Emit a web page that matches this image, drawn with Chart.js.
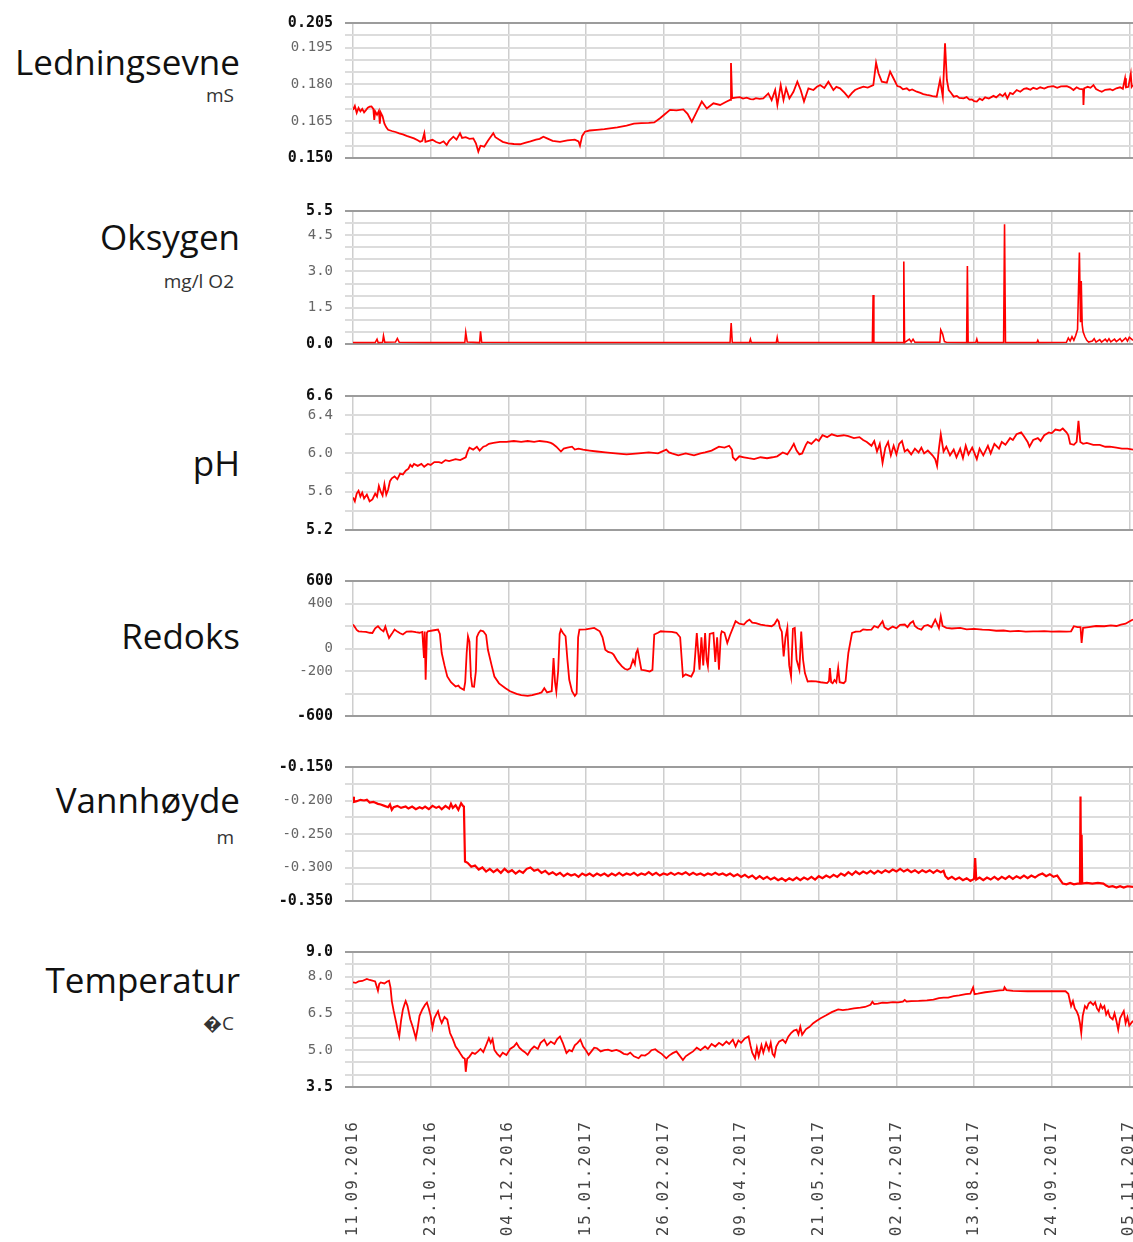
<!DOCTYPE html>
<html>
<head>
<meta charset="utf-8">
<title>Målinger</title>
<script src="https://cdn.jsdelivr.net/npm/chart.js@4"></script>
<style>
  html, body { margin: 0; padding: 0; background: #fff; overflow: hidden; }
  body { width: 1133px; height: 1242px; position: relative; }
  .title { position: absolute; right: 893px; font-family: 'Open Sans', sans-serif; font-size: 35px; color: #111; white-space: nowrap; line-height: 35px; }
  .unit { position: absolute; right: 899px; font-family: 'Open Sans', sans-serif; font-size: 19px; color: #333; white-space: nowrap; line-height: 19px; }
  .panel { position: absolute; left: 260px; }
</style>
</head>
<body>
<div class="title" style="top:44px">Ledningsevne</div>
<div class="unit" style="top:86px">mS</div>
<div class="title" style="top:219px">Oksygen</div>
<div class="unit" style="top:272px">mg/l O2</div>
<div class="title" style="top:445px">pH</div>
<div class="title" style="top:618px">Redoks</div>
<div class="title" style="top:782px">Vannhøyde</div>
<div class="unit" style="top:828px">m</div>
<div class="title" style="top:962px">Temperatur</div>
<div class="unit" style="top:1014px">�C</div>

<script>
// datoer langs x-aksen, hver 42. dag fra 11.09.2016
const dateLabels = ['11.09.2016', '23.10.2016', '04.12.2016', '15.01.2017', '26.02.2017', '09.04.2017',
  '21.05.2017', '02.07.2017', '13.08.2017', '24.09.2017', '05.11.2017'];
const dayStep = 42;
const lastDay = 422;

// etiketter på y-aksene
const condTicks = ['0.205', '0.195', '0.180', '0.165', '0.150'];
const oxyTicks = ['5.5', '4.5', '3.0', '1.5', '0.0'];
const phTicks = ['6.6', '6.4', '6.0', '5.6', '5.2'];
const redoxTicks = ['600', '400', '0', '-200', '-600'];
const levelTicks = ['-0.150', '-0.200', '-0.250', '-0.300', '-0.350'];
const tempTicks = ['9.0', '8.0', '6.5', '5.0', '3.5'];

// [dag, verdi]
const condData = [[0,.1696],[1,.1712],[2,.1684],[3,.1704],[4,.1690],[5,.1700],[6,.1686],[7,.1695],[8,.1705],[9,.1709],
  [10,.1710],[11,.1700],[11.5,.1655],[12,.1690],[13,.1676],[14,.1692],[14.5,.1640],[15,.1685],[16,.1670],[17,.1640],
  [18,.1625],[19,.1615],[21,.1610],[23,.1606],[25,.1600],[27,.1596],[29,.1590],[31,.1585],[33,.1580],[35,.1572],
  [36.3,.1566],[37.5,.1570],[38.6,.1601],[39.2,.1566],[41,.1570],[43,.1574],[45,.1565],[47,.1560],[49,.1568],[50.7,.1553],
  [52,.1570],[54.3,.1587],[56,.1575],[57.9,.1601],[59,.1582],[61,.1585],[63,.1578],[65.1,.1580],[66.5,.1560],[67.8,.1526],
  [69,.1550],[71,.1546],[73,.1570],[75.9,.1601],[77,.1585],[79,.1575],[81,.1566],[84,.1560],[87,.1557],[90.4,.1556],
  [93,.1562],[96,.1568],[99,.1575],[101,.1578],[103,.1587],[105,.1580],[108,.1570],[112,.1566],[116,.1572],[120,.1575],
  [122,.1568],[122.8,.1550],[124,.1590],[125.5,.1607],[128,.1612],[132,.1615],[136,.1618],[139,.1621],[143,.1625],[148,.1632],
  [152,.1640],[156,.1642],[160,.1643],[163,.1645],[166.1,.1662],[169,.1680],[171.5,.1696],[175,.1694],[178.7,.1698],[181,.1680],
  [183.3,.1648],[186,.1689],[188.7,.1730],[191.4,.1702],[195,.1723],[198.6,.1716],[202.2,.1730],[204,.1737],[204.5,.1887],[205.1,.1744],
  [207,.1746],[209.4,.1748],[211,.1742],[213,.1746],[215,.1740],[216.6,.1739],[218,.1744],[220,.1741],[222,.1743],[224.7,.1763],
  [226.5,.1736],[228.4,.1777],[229.6,.1716],[231.4,.1797],[232.9,.1736],[234.3,.1784],[236.1,.1743],[238.3,.1770],[240.4,.1811],[242.2,.1777],
  [244,.1730],[246.4,.1784],[249.1,.1777],[251,.1790],[252.7,.1797],[255,.1785],[257.2,.1811],[259.9,.1777],[261.5,.1790],[263.5,.1784],
  [266,.1765],[268,.1747],[270,.1765],[271.6,.1777],[274,.1785],[276.1,.1791],[278.5,.1787],[281.5,.1797],[283,.1888],[284.3,.1845],
  [286.1,.1811],[288.8,.1807],[290.6,.1852],[292.4,.1825],[294.5,.1793],[296,.1790],[297.5,.1780],[299.6,.1784],[301,.1775],[302.5,.1779],
  [305,.1770],[307,.1765],[308.5,.1760],[310.4,.1757],[312,.1755],[313.5,.1752],[315.8,.1750],[317.6,.1818],[319.1,.1750],[320.3,.1967],
  [321.3,.1818],[322.3,.1777],[323.5,.1766],[325,.1750],[326.7,.1753],[328,.1745],[330.3,.1743],[332,.1748],[333.5,.1738],[334.8,.1739],
  [336,.1732],[337.5,.1730],[339,.1742],[340.5,.1736],[342,.1747],[344,.1742],[346.5,.1753],[348,.1747],[350,.1760],[351.5,.1752],
  [352.8,.1763],[354,.1743],[355.5,.1765],[357,.1760],[359.1,.1777],[361,.1770],[363,.1782],[364.5,.1784],[366.5,.1778],[368,.1786],
  [370,.1781],[371.8,.1788],[374,.1783],[376,.1790],[378.9,.1793],[381,.1786],[383,.1792],[386.2,.1793],[388,.1787],[389.8,.1777],
  [391.5,.1788],[393,.1782],[395,.1780],[395.2,.1716],[395.6,.1784],[397.5,.1790],[399,.1786],[400.6,.1797],[402,.1781],[403.5,.1775],
  [405.1,.1770],[407,.1778],[409.6,.1780],[411,.1776],[413,.1784],[415,.1788],[416.5,.1782],[417.7,.1825],[418.2,.1788],[419.5,.1790],
  [420.8,.1842],[421.3,.1790],[422,.1797]];

const oxyData = [[0,.06],[12,.06],[13,.20],[13.6,.06],[16,.07],[16.5,.34],[17.2,.07],[23,.08],[24,.23],[25,.07],
  [40,.06],[60.5,.06],[61,.48],[61.8,.08],[68.5,.06],[69,.52],[69.6,.07],[120,.06],[204,.06],[204.6,.87],
  [205.2,.06],[214.5,.06],[215,.20],[215.5,.06],[229,.06],[229.5,.27],[230,.06],[281,.06],[281.4,2.03],[281.8,.06],
  [297.6,.06],[298,3.41],[298.4,.06],[301,.2],[302,.08],[303,.2],[304,.07],[317.5,.07],[318,.58],[319,.41],
  [320,.1],[321,.07],[332,.06],[332.4,3.23],[332.8,.06],[337,.07],[337.5,.20],[338,.06],[352,.06],[352.5,4.95],
  [353,.06],[370,.06],[370.5,.15],[371,.06],[386,.07],[387,.25],[388,.12],[389,.30],[390,.15],[391,.35],
  [392,.6],[393,3.78],[393.6,.9],[394,2.6],[394.5,.8],[395,.5],[396,.3],[397,.15],[398,.08],[400,.12],
  [401,.22],[402,.08],[404,.18],[405,.08],[407,.2],[408,.1],[409,.22],[410,.09],[412,.2],[413,.1],
  [415,.22],[416,.1],[418,.25],[419,.12],[420,.28],[422,.15]];

const phData = [[0,5.54],[1,5.50],[2,5.58],[3,5.61],[4,5.55],[5,5.59],[6,5.53],[7.5,5.57],[9,5.50],[10.5,5.52],
  [12,5.58],[13,5.55],[14,5.66],[15,5.60],[16,5.56],[17,5.68],[18,5.57],[19,5.62],[20,5.71],[21,5.74],
  [22.5,5.76],[24,5.73],[25.5,5.79],[27,5.78],[28.5,5.82],[30,5.84],[31,5.88],[32,5.86],[33,5.89],[35,5.87],
  [37,5.89],[38.5,5.86],[40.5,5.89],[42,5.88],[44,5.91],[46.5,5.91],[48,5.90],[50,5.93],[52,5.92],[55.5,5.94],
  [58,5.93],[61,5.96],[62,6.02],[63,6.06],[65,6.04],[67,6.07],[68.5,6.03],[70.5,6.07],[72,6.08],[73.5,6.10],
  [76,6.11],[79.5,6.12],[83,6.12],[87,6.13],[91,6.12],[94.5,6.13],[98,6.12],[101,6.13],[105,6.12],[107,6.11],
  [108,6.10],[110,6.07],[112.5,6.02],[114,6.05],[116,6.06],[118.5,6.07],[120,6.04],[122,6.05],[124.5,6.04],[128,6.03],
  [132,6.02],[136.5,6.01],[142,6.00],[148,5.99],[154.5,6.00],[160,6.01],[165,6.00],[169.5,6.04],[171,6.01],[172.5,6.00],
  [176,5.98],[180,6.00],[184.5,5.98],[188,6.00],[190.5,6.01],[194,6.03],[198,6.07],[201,6.06],[203.5,6.08],[205,6.04],
  [205.5,5.96],[207,5.93],[209,5.97],[211.5,5.96],[214,5.95],[217,5.94],[220.5,5.96],[224,5.95],[227,5.96],[229.5,5.97],
  [232.5,6.01],[235,5.99],[237,6.05],[238.5,6.10],[240,6.03],[241.5,5.99],[243,6.00],[245,6.09],[246,6.12],[248,6.10],
  [250.5,6.15],[252,6.13],[254,6.19],[256.5,6.17],[259,6.20],[262,6.18],[265.5,6.19],[268,6.18],[271,6.16],[274,6.17],
  [276,6.14],[278,6.12],[280.5,6.08],[282,6.13],[283.5,6.02],[285,6.10],[286.5,5.90],[288,6.06],[289.5,6.12],[291,5.98],
  [292.5,6.08],[294,5.99],[295.5,6.10],[297,6.13],[298.5,6.02],[300,6.04],[302,5.99],[304,6.05],[306,6.01],[307.5,6.06],
  [309,6.00],[311,6.03],[313.5,5.98],[315,5.94],[316,5.87],[317,6.05],[318,6.20],[319.5,6.02],[321,6.07],[323,5.98],
  [325,6.04],[326.5,5.96],[328.5,6.05],[330,5.95],[331.5,6.08],[333,5.99],[335,6.06],[337.5,5.94],[339,6.05],[341,5.98],
  [343.5,6.08],[345,6.00],[347,6.10],[349.5,6.05],[351,6.12],[353,6.09],[355.5,6.16],[357,6.14],[359,6.20],[361.5,6.22],
  [363,6.18],[365,6.12],[366,6.07],[368,6.14],[370.5,6.16],[372,6.13],[374,6.19],[376.5,6.22],[378,6.21],[380,6.25],
  [382.5,6.24],[384,6.26],[386,6.22],[387,6.19],[388,6.10],[390,6.09],[391.5,6.12],[392.5,6.34],[393.5,6.12],[395,6.10],
  [397,6.11],[400.5,6.09],[404,6.09],[407,6.07],[409.5,6.07],[413,6.06],[416,6.05],[419,6.05],[422,6.04]];

const redoxData = [[0,213],[1,190],[2,165],[3,153],[5,150],[7,148],[9,140],[10.5,138],[12,180],[13.5,198],
  [15,170],[16.5,153],[17.5,195],[18.5,140],[19.5,94],[21,130],[22.5,168],[24,150],[25.5,135],[27,124],
  [29,150],[31.5,153],[34,145],[36,140],[37.5,147],[38.4,-85],[38.8,150],[39.3,-278],[40,140],[40.5,153],
  [43,160],[46,168],[47,130],[48,-40],[49.5,-150],[51,-249],[53,-300],[55.5,-338],[57,-330],[58,-350],
  [60,-368],[60.7,-300],[61.5,-40],[62.2,109],[63,60],[63.8,-250],[64.5,-338],[65.5,-340],[66.5,-200],[67,100],
  [68,138],[69,160],[70.5,153],[72,120],[73,-11],[75,-150],[76.5,-249],[79,-310],[82.5,-353],[85,-380],
  [88.5,-404],[91,-415],[94.5,-421],[97,-415],[100.5,-398],[102,-390],[103.5,-353],[105,-390],[106.5,-383],[107.5,-380],
  [108.5,-85],[109.3,-300],[110,-383],[111,-200],[111.8,130],[112.5,168],[113.5,140],[115,109],[116,-100],[117,-278],
  [118.5,-380],[120,-421],[121,-400],[121.8,100],[122.5,168],[126,170],[130.5,183],[133.5,153],[135,100],[136.5,-11],
  [138,-30],[140,-40],[141,-55],[143,-110],[145.5,-159],[147,-180],[148.5,-189],[150,-175],[151.5,-100],[152.5,-140],
  [153.2,-40],[154,-11],[155,-100],[156,-189],[158,-195],[160.5,-204],[162,-190],[163,124],[165,140],[166.5,153],
  [169,150],[172.5,147],[175,140],[177,100],[178.5,-249],[180,-230],[183,-249],[184.5,-200],[186,138],[187.5,-189],
  [188.5,100],[189.5,-150],[190.5,138],[191.3,-100],[192,-159],[193,130],[195,138],[196,-120],[197,100],[198,-189],
  [199,120],[199.5,153],[201,140],[202.5,49],[204,120],[207,243],[209,220],[211.5,213],[213,240],[214.5,257],
  [216,230],[218,225],[220.5,213],[223,205],[226.5,198],[228,215],[229.5,257],[230.3,240],[231,183],[232,150],
  [233,-70],[234,100],[235,183],[236,-150],[237,-249],[238,175],[239,183],[240,-100],[241.5,-189],[242.5,150],
  [243.5,-100],[244.5,-219],[246,-293],[248,-290],[250.5,-293],[253,-300],[256.5,-308],[257.5,-290],[258,-174],[258.7,-300],
  [259.5,-308],[260.5,-280],[261.5,-300],[262.5,-174],[263.3,-300],[265.5,-308],[266.5,-290],[267,-200],[268,-40],[269,50],
  [270,138],[272,150],[274.5,153],[276,170],[278,165],[280.5,168],[282,200],[284,185],[286.5,243],[287.5,190],
  [289.5,168],[292,195],[294,180],[296,210],[298.5,213],[300,190],[301.5,225],[303,243],[304,200],[305.5,180],
  [307.5,168],[309,200],[311,210],[313,190],[315,257],[316,220],[317,180],[318,287],[319,200],[321,183],
  [324,178],[328.5,183],[332,170],[336,175],[340.5,168],[344,165],[348,158],[352,160],[355.5,153],[360,156],
  [364,150],[368,153],[370.5,153],[374,155],[378,150],[382,153],[386,150],[388.5,153],[390,198],[392,190],
  [393.6,190],[394.2,49],[395,183],[398,190],[402,200],[406.5,198],[410,205],[413,200],[415.5,213],[418,220],
  [420,240],[422,257]];

const levelData = [[0,-.1945],[0.5,-.202],[2,-.201],[4,-.199],[6,-.200],[7.5,-.199],[9,-.203],[11,-.202],[13.5,-.205],[15,-.206],
  [17,-.208],[19,-.210],[20,-.206],[21,-.214],[22,-.210],[24,-.208],[26,-.211],[28.5,-.209],[30,-.212],[32,-.209],
  [34,-.213],[36,-.210],[37.5,-.212],[39,-.209],[41,-.213],[43,-.208],[45,-.211],[46.5,-.209],[48,-.213],[50,-.208],
  [52,-.212],[53,-.205],[54,-.211],[55.5,-.207],[57,-.214],[58.5,-.204],[59.5,-.208],[60,-.209],[60.6,-.291],[62,-.293],
  [64,-.299],[66,-.297],[68,-.303],[70,-.300],[72,-.306],[74,-.302],[76,-.307],[78,-.303],[80,-.308],[82,-.302],
  [84,-.307],[86,-.304],[88,-.309],[90,-.305],[92,-.308],[94,-.302],[96,-.300],[98,-.305],[100,-.303],[102,-.308],
  [104,-.305],[106,-.310],[108,-.307],[110,-.311],[112,-.308],[114,-.313],[116,-.309],[118,-.312],[120,-.310],[122,-.314],
  [124,-.309],[126,-.312],[128,-.309],[130,-.313],[132,-.309],[134,-.312],[136,-.309],[138,-.313],[140,-.309],[142,-.312],
  [144,-.308],[146,-.312],[148,-.309],[150,-.311],[152,-.308],[154,-.312],[156,-.309],[158,-.311],[160,-.307],[162,-.311],
  [164,-.308],[166,-.312],[168,-.309],[170,-.311],[172,-.308],[174,-.311],[176,-.308],[178,-.310],[180,-.307],[182,-.311],
  [184,-.308],[186,-.311],[188,-.309],[190,-.312],[192,-.309],[194,-.311],[196,-.308],[198,-.311],[200,-.309],[202,-.312],
  [204,-.309],[206,-.313],[208,-.310],[210,-.314],[212,-.311],[214,-.315],[216,-.312],[218,-.317],[220,-.313],[222,-.317],
  [224,-.314],[226,-.318],[228,-.315],[230,-.319],[232,-.316],[234,-.320],[236,-.316],[238,-.319],[240,-.315],[242,-.319],
  [244,-.315],[246,-.318],[248,-.314],[250,-.318],[252,-.313],[254,-.316],[256,-.312],[258,-.315],[260,-.311],[262,-.314],
  [264,-.309],[266,-.312],[268,-.307],[270,-.311],[272,-.306],[274,-.310],[276,-.306],[278,-.309],[280,-.305],[282,-.309],
  [284,-.305],[286,-.308],[288,-.304],[290,-.307],[292,-.303],[294,-.306],[296,-.302],[298,-.306],[300,-.303],[302,-.307],
  [304,-.304],[306,-.308],[308,-.304],[310,-.307],[312,-.304],[314,-.308],[316,-.304],[318,-.307],[319.5,-.305],[320.5,-.313],
  [322,-.317],[324,-.314],[326,-.318],[328,-.315],[330,-.319],[332,-.316],[334,-.320],[336,-.317],[336.6,-.286],[337.2,-.318],
  [339,-.315],[341,-.319],[343,-.315],[345,-.318],[347,-.314],[349,-.318],[351,-.314],[353,-.317],[355,-.313],[357,-.317],
  [359,-.313],[361,-.316],[363,-.312],[365,-.316],[367,-.312],[369,-.315],[371,-.311],[373,-.309],[375,-.313],[377,-.310],
  [379,-.314],[381,-.312],[382.5,-.318],[384,-.324],[386,-.325],[388,-.323],[390,-.325],[392,-.324],[393.3,-.324],[393.6,-.194],
  [393.9,-.324],[394.2,-.251],[394.5,-.324],[397,-.323],[400,-.324],[403,-.323],[406,-.324],[407.5,-.327],[409,-.329],[411,-.328],
  [413,-.330],[415,-.328],[417,-.330],[419,-.328],[422,-.329]];

const tempData = [[0,7.76],[1.5,7.74],[3,7.80],[5,7.82],[7.5,7.90],[9,7.86],[10.5,7.83],[12,7.80],[13.5,7.42],[14.2,7.70],
  [15,7.76],[17,7.72],[18.5,7.80],[19.5,7.83],[20.3,7.55],[21,7.00],[22,6.60],[23.4,6.11],[24.2,5.80],[25,5.56],
  [26,6.20],[27,6.66],[28,6.90],[28.5,7.00],[29.5,6.80],[31,6.25],[32.5,5.90],[34,5.49],[35,5.90],[36,6.40],
  [37.5,6.66],[39,6.85],[40,6.94],[41,6.70],[42,6.40],[43,5.91],[44,6.30],[45,6.45],[46,6.59],[47,6.30],
  [48,6.11],[49.5,6.35],[51,6.25],[52.5,5.70],[54,5.45],[55.5,5.15],[57,5.00],[58.5,4.81],[59.5,4.70],[60.5,4.65],
  [61,4.12],[61.8,4.65],[63,4.74],[64.5,4.90],[66,4.85],[67.5,4.94],[69,5.05],[70.5,4.92],[72,5.20],[73.5,5.49],
  [74.5,5.30],[75.5,5.45],[76.5,5.01],[78,4.85],[79.5,4.74],[81,4.90],[83,4.80],[85,5.05],[87,5.15],[88.5,5.29],
  [90,5.10],[91.5,5.00],[93,4.92],[94.5,4.81],[96,5.00],[98,5.15],[100,5.05],[101.5,5.30],[103.5,5.43],[105,5.20],
  [107,5.35],[109,5.25],[110.5,5.45],[112,5.56],[113.5,5.30],[115.5,4.88],[117,5.00],[118.5,4.95],[120,5.20],[121.5,5.30],
  [123,5.43],[124.5,5.15],[126,5.00],[127.5,4.81],[129,4.95],[130.5,5.10],[132,5.08],[134,4.95],[136,5.00],[138,5.02],
  [140,4.96],[142.5,5.01],[144.5,4.95],[146.5,4.85],[148.5,4.82],[150,4.90],[152,4.75],[154.5,4.67],[156,4.80],[158,4.78],
  [160,4.88],[161.5,5.00],[163.5,5.04],[165,4.95],[167,4.85],[169.5,4.67],[171,4.78],[173,4.88],[175,4.95],[176.5,4.80],
  [178.5,4.60],[180,4.75],[182,4.85],[184,4.95],[186,5.10],[188,5.00],[190.5,5.15],[192,5.05],[194,5.25],[196,5.15],
  [198,5.30],[200,5.20],[202,5.35],[203.5,5.25],[205.5,5.43],[207,5.15],[208.5,5.40],[210,5.30],[212,5.48],[214,5.56],
  [215,5.20],[216,4.90],[217.5,4.67],[218.5,5.10],[219.5,4.75],[221,5.20],[222,4.90],[223.5,5.29],[225,5.00],[226,5.30],
  [227,4.85],[228,4.74],[229,5.15],[230.5,5.35],[232.5,5.43],[234,5.30],[235.5,5.55],[237,5.70],[238.5,5.80],[240,5.84],
  [241,5.65],[242,5.95],[243,5.63],[245,5.85],[247,5.95],[249,6.10],[250.5,6.18],[253,6.30],[256,6.42],[259,6.55],
  [262.5,6.66],[265,6.63],[268,6.66],[271,6.70],[274.5,6.73],[277,6.76],[280,6.85],[281,6.97],[282,6.88],[284,6.90],
  [286.5,6.94],[289,6.93],[292,6.96],[295,6.95],[297.5,6.98],[298.5,7.05],[299.5,6.98],[302,7.00],[306,7.01],[310.5,7.03],
  [314,7.06],[317,7.12],[319.5,7.14],[322,7.14],[325,7.20],[328,7.23],[331.5,7.28],[334,7.30],[335.5,7.56],[336.3,7.28],
  [338,7.30],[342,7.36],[346,7.40],[350,7.44],[352,7.45],[352.5,7.56],[353.5,7.45],[357,7.42],[361,7.41],[365,7.40],
  [370.5,7.40],[375,7.40],[380,7.40],[385.5,7.40],[387,7.30],[388.5,6.80],[389.5,7.00],[390.5,6.70],[391.5,6.59],[392.5,6.40],
  [393.3,6.10],[394,5.70],[394.8,6.40],[396,6.80],[397,6.70],[398,6.90],[399,6.96],[400.5,6.85],[401.5,6.95],[402.5,6.70],
  [403.5,6.59],[404.5,6.85],[405.5,6.70],[406.5,6.80],[407.5,6.45],[408.5,6.60],[409.5,6.35],[411,6.25],[412,6.50],[413,6.20],
  [414,5.84],[415,6.30],[416,6.45],[417,6.59],[418,6.10],[419,6.35],[420,6.00],[422,6.20]];

// datoetiketter under nederste panel, tegnet med litt sperring
const dateLabelPlugin = {
  id: 'dateLabels',
  afterDraw(chart) {
    const ctx = chart.ctx;
    const xs = chart.scales.x;
    ctx.save();
    ctx.font = '16px "DejaVu Sans Mono", monospace';
    ctx.fillStyle = '#444';
    ctx.letterSpacing = '2px';
    ctx.textAlign = 'right';
    ctx.textBaseline = 'middle';
    dateLabels.forEach((lab, i) => {
      ctx.save();
      ctx.translate(xs.getPixelForValue(i * dayStep), chart.chartArea.bottom + 33);
      ctx.rotate(-Math.PI / 2);
      ctx.fillText(lab, 0, 0);
      ctx.restore();
    });
    ctx.restore();
  }
};

function makePanel(plotTop, plotH, data, yMin, yMax, yStep, labels, decimals, last, lineW) {
  const div = document.createElement('div');
  div.className = 'panel';
  const h = last ? 1242 - (plotTop - 12) : plotH + 24;
  div.style.top = (plotTop - 12) + 'px';
  const canvas = document.createElement('canvas');
  canvas.width = 883;
  canvas.height = h;
  div.appendChild(canvas);
  document.body.appendChild(div);

  const fmt = v => v.toFixed(decimals).replace(/^-0(\.0+)?$/, '0$1');
  const isEnd = c => !!(c && c.tick) && (Math.abs(c.tick.value - yMin) < 1e-9 || Math.abs(c.tick.value - yMax) < 1e-9);
  const monoNormal = { family: '"DejaVu Sans Mono", monospace', size: 14 };
  const monoBold = { family: '"DejaVu Sans Mono", monospace', size: 15, weight: 'bold' };

  new Chart(canvas, {
    type: 'line',
    data: {
      datasets: [{
        data: data.map(([x, y]) => ({ x, y })),
        borderColor: '#ff0000',
        borderWidth: lineW,
        pointRadius: 0,
        tension: 0
      }]
    },
    options: {
      responsive: false,
      animation: false,
      devicePixelRatio: 1,
      layout: { padding: { top: 12, bottom: last ? 0 : 12, left: 0, right: 10 } },
      plugins: { legend: { display: false }, tooltip: { enabled: false } },
      scales: {
        x: {
          type: 'linear',
          min: 0,
          max: lastDay,
          afterBuildTicks: s => { s.ticks = dateLabels.map((d, i) => ({ value: i * dayStep })); },
          afterFit: s => {
            s.height = last ? h - 12 - plotH : 0;
            s.paddingLeft = 0; s.paddingRight = 0;
          },
          ticks: { display: false },
          grid: { color: '#cecece', lineWidth: 1.5, drawTicks: false },
          border: { display: false }
        },
        y: {
          type: 'linear',
          min: yMin,
          max: yMax,
          afterBuildTicks: s => {
            const n = Math.round((yMax - yMin) / yStep);
            const t = [];
            for (let i = 0; i <= n; i++) t.push({ value: +(yMin + i * yStep).toFixed(6) });
            s.ticks = t;
          },
          afterFit: s => {
            s.width = 93;
            s.paddingTop = 0; s.paddingBottom = 0;
          },
          ticks: {
            autoSkip: false,
            padding: 12,
            callback: v => labels.includes(fmt(v)) ? fmt(v) : '',
            font: c => isEnd(c) ? monoBold : monoNormal,
            color: c => isEnd(c) ? '#111' : '#666'
          },
          grid: {
            color: c => isEnd(c) ? '#9c9c9c' : '#dcdcdc',
            lineWidth: 2,
            tickLength: 8
          },
          border: { display: false }
        }
      }
    },
    plugins: last ? [dateLabelPlugin] : []
  });
}

makePanel(23, 135, condData, 0.150, 0.205, 0.005, condTicks, 3, false, 1.8);
makePanel(211, 133, oxyData, 0, 5.5, 0.5, oxyTicks, 1, false, 1.6);
makePanel(396, 134, phData, 5.2, 6.6, 0.2, phTicks, 1, false, 1.8);
makePanel(581, 135, redoxData, -600, 600, 200, redoxTicks, 0, false, 1.8);
makePanel(767, 134, levelData, -0.350, -0.150, 0.025, levelTicks, 3, false, 2.2);
makePanel(952, 135, tempData, 3.5, 9.0, 0.5, tempTicks, 1, true, 1.8);
</script>
</body>
</html>
